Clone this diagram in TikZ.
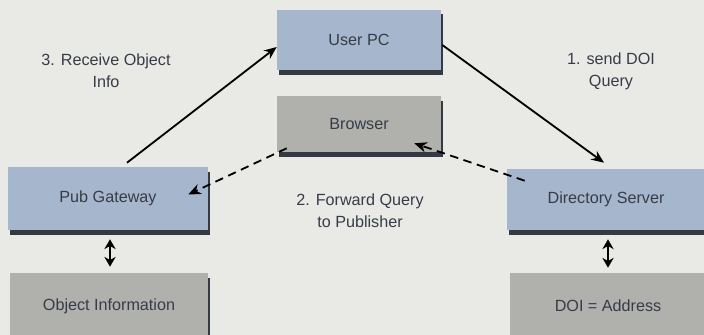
\documentclass[tikz,border=0pt]{standalone}
\usepackage{fontspec}
\setmainfont{Liberation Sans}
\usetikzlibrary{arrows.meta,calc,shadows}

\definecolor{bgc}{RGB}{233,233,229}
\definecolor{bluec}{RGB}{166,182,204}
\definecolor{grayc}{RGB}{176,176,173}
\definecolor{shadowc}{RGB}{52,58,68}
\definecolor{textc}{RGB}{55,60,72}

\tikzset{
    box/.style={rectangle, text=textc, font=\fontsize{11.5}{14}\selectfont,
        drop shadow={shadow xshift=1.4pt, shadow yshift=-3.2pt, fill=shadowc, opacity=1}},
    bluebox/.style={box, fill=bluec},
    graybox/.style={box, fill=grayc},
    lbl/.style={text=textc, align=center, font=\fontsize{11.5}{15.5}\selectfont},
    conn/.style={line width=1.3pt, -{Stealth[length=9pt,width=7.5pt]}},
    dconn/.style={conn, dashed, dash pattern=on 6pt off 4pt},
    link/.style={line width=1.3pt, {Stealth[length=7pt,width=8pt]}-{Stealth[length=7pt,width=8pt]}}
}

\begin{document}
\begin{tikzpicture}[x=0.025cm, y=-0.025cm]
    \fill[bgc] (0,0) rectangle (704,335);
    \useasboundingbox (0,0) rectangle (704,335);

    % boxes
    \node[bluebox, minimum width=164*0.025cm, minimum height=60*0.025cm] (upc) at (359,40) {User PC};
    \node[graybox, minimum width=164*0.025cm, minimum height=56*0.025cm] (brw) at (359,124) {Browser};
    \node[bluebox, minimum width=200*0.025cm, minimum height=63*0.025cm] (gw) at (108,198.5) {Pub Gateway};
    \node[graybox, minimum width=198*0.025cm, minimum height=66*0.025cm] (objinfo) at (109,306) {Object Information};
    \node[bluebox, minimum width=198*0.025cm, minimum height=61*0.025cm] (dirsrv) at (606,199.5) {Directory Server};
    \node[graybox, minimum width=196*0.025cm, minimum height=66*0.025cm] (doiaddr) at (608,306) {DOI = Address};

    % labels
    \node[lbl] (rcv) at (106,71) {3. Receive Object\\Info};
    \node[lbl] (snd) at (611,71) {1. send DOI\\Query};
    \node[lbl] (fwd) at (360,211) {2. Forward Query\\to Publisher};

    % connectors
    \draw[conn] ($(gw.north)+(19,-4)$) -- ($(upc.west)+(0,7)$);
    \draw[conn] ($(upc.east)+(1,5)$) -- ($(dirsrv.north)+(-2,-6)$);
    \draw[dconn] ($(brw.south west)+(10,-4)$) -- ($(gw.east)+(-20,-4)$);
    \draw[dconn] ($(dirsrv.north west)+(18,12)$) -- ($(brw.south east)+(-27,-9)$);
    \draw[link] ($(gw.south)+(2,9)$) -- ($(objinfo.north)+(1,-6)$);
    \draw[link] ($(dirsrv.south)+(2,9)$) -- ($(doiaddr.north)+(0,-5)$);
\end{tikzpicture}
\end{document}
